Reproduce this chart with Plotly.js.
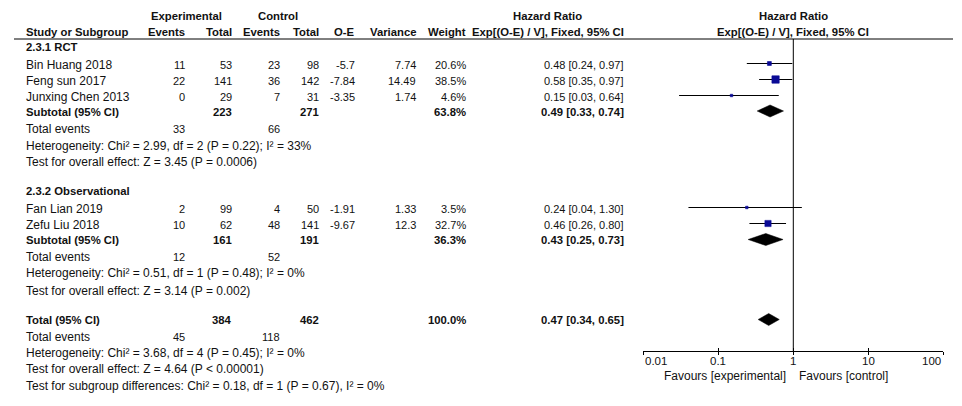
<!DOCTYPE html>
<html><head><meta charset="utf-8">
<script src="https://cdn.plot.ly/plotly-3.0.1.min.js"></script>
<style>html,body{margin:0;padding:0;background:#fff}#c{width:962px;height:406px}</style>
</head><body><div id="c"></div>
<script>
// ---------- data ----------
const subgroups = ["2.3.1 RCT", "2.3.2 Observational"];
const studies = ["Bin Huang 2018", "Feng sun 2017", "Junxing Chen 2013", "Fan Lian 2019", "Zefu Liu 2018"];
const studyGroup = [0, 0, 0, 1, 1];
const expEvents = [11, 22, 0, 2, 10];
const expTotal = [53, 141, 29, 99, 62];
const ctlEvents = [23, 36, 7, 4, 48];
const ctlTotal = [98, 142, 31, 50, 141];
const oMinusE = [-5.7, -7.84, -3.35, -1.91, -9.67];
const variance = [7.74, 14.49, 1.74, 1.33, 12.3];
const weight = [20.6, 38.5, 4.6, 3.5, 32.7];
const hr = [0.48, 0.58, 0.15, 0.24, 0.46];
const hrLo = [0.24, 0.35, 0.03, 0.04, 0.26];
const hrHi = [0.97, 0.97, 0.64, 1.30, 0.80];

const subExpTotal = [223, 161];
const subCtlTotal = [271, 191];
const subWeight = [63.8, 36.3];
const subHR = [0.49, 0.43];
const subLo = [0.33, 0.25];
const subHi = [0.74, 0.73];
const subExpEvents = [33, 12];
const subCtlEvents = [66, 52];
const subHet = ["Heterogeneity: Chi² = 2.99, df = 2 (P = 0.22); I² = 33%",
                "Heterogeneity: Chi² = 0.51, df = 1 (P = 0.48); I² = 0%"];
const subZ = ["Test for overall effect: Z = 3.45 (P = 0.0006)",
              "Test for overall effect: Z = 3.14 (P = 0.002)"];

const totExpTotal = 384, totCtlTotal = 462, totWeight = 100.0;
const totHR = 0.47, totLo = 0.34, totHi = 0.65;
const totExpEvents = 45, totCtlEvents = 118;
const totHet = "Heterogeneity: Chi² = 3.68, df = 4 (P = 0.45); I² = 0%";
const totZ = "Test for overall effect: Z = 4.64 (P < 0.00001)";
const subDiff = "Test for subgroup differences: Chi² = 0.18, df = 1 (P = 0.67), I² = 0%";

const tickVals = [0.01, 0.1, 1, 10, 100];
const tickText = ["0.01", "0.1", "1", "10", "100"];
const favLeft = "Favours [experimental]";
const favRight = "Favours [control]";

// ---------- layout constants ----------
const W = 962, H = 406;
const rowY = [47, 64.5, 80.5, 96.5, 111.5, 129, 145.5, 162, 191, 208.5, 224.5, 240, 257, 273, 290.5, 320, 337, 353, 369, 385.5];
const colStudy = 24, colEvE = 187, colTotE = 233.5, colEvC = 282, colTotC = 320.5,
      colOE = 357, colVar = 418, colW = 468, colHR = 625.5;
const axisY = 351, headLineY = 39;
const FONT = "Arial, 'Liberation Sans', sans-serif";
const TXT = "#111";
const SQ = "#0a0a96";
const SZ_LABEL = 12, SZ_NUM = 11, SZ_BOLD = 11.3;

const ann = [];
function t(x, y, text, anchor, kind) {
  const bold = kind === 'b';
  const size = bold ? SZ_BOLD : (kind === 'l' ? SZ_LABEL : SZ_NUM);
  ann.push({
    xref: 'x', yref: 'y', x: x, y: y, text: bold ? '<b>' + text + '</b>' : text,
    showarrow: false, xanchor: anchor, yanchor: 'middle',
    font: {family: FONT, size: size, color: TXT}
  });
}
const fmt2 = v => v.toFixed(2);
const ci = (e, l, h) => fmt2(e) + ' [' + fmt2(l) + ', ' + fmt2(h) + ']';

// headers
t(186, 16, 'Experimental', 'center', 'b');
t(278, 16, 'Control', 'center', 'b');
t(547, 16, 'Hazard Ratio', 'center', 'b');
t(793, 16, 'Hazard Ratio', 'center', 'b');
t(colStudy, 32, 'Study or Subgroup', 'left', 'b');
t(colEvE, 32, 'Events', 'right', 'b');
t(colTotE, 32, 'Total', 'right', 'b');
t(colEvC, 32, 'Events', 'right', 'b');
t(colTotC, 32, 'Total', 'right', 'b');
t(colOE, 32, 'O-E', 'right', 'b');
t(colVar, 32, 'Variance', 'right', 'b');
t(colW, 32, 'Weight', 'right', 'b');
t(colHR, 32, 'Exp[(O-E) / V], Fixed, 95% CI', 'right', 'b');
t(793, 32, 'Exp[(O-E) / V], Fixed, 95% CI', 'center', 'b');

const traces = [];
const studyYs = [], diamonds = [];
let r = 0;
subgroups.forEach((g, gi) => {
  t(colStudy, rowY[r++], g, 'left', 'b');
  studies.forEach((s, i) => {
    if (studyGroup[i] !== gi) return;
    const y = rowY[r++];
    t(colStudy, y, s, 'left', 'l');
    t(colEvE, y, String(expEvents[i]), 'right');
    t(colTotE, y, String(expTotal[i]), 'right');
    t(colEvC, y, String(ctlEvents[i]), 'right');
    t(colTotC, y, String(ctlTotal[i]), 'right');
    t(colOE, y, String(oMinusE[i]), 'right');
    t(colVar, y, String(variance[i]), 'right');
    t(colW, y, weight[i].toFixed(1) + '%', 'right');
    t(colHR, y, ci(hr[i], hrLo[i], hrHi[i]), 'right');
    studyYs[i] = y;
  });
  let y = rowY[r++];
  t(colStudy, y, 'Subtotal (95% CI)', 'left', 'b');
  t(colTotE, y, String(subExpTotal[gi]), 'right', 'b');
  t(colTotC, y, String(subCtlTotal[gi]), 'right', 'b');
  t(colW, y, subWeight[gi].toFixed(1) + '%', 'right', 'b');
  t(colHR, y, ci(subHR[gi], subLo[gi], subHi[gi]), 'right', 'b');
  diamonds.push({e: subHR[gi], l: subLo[gi], h: subHi[gi], y: y});
  y = rowY[r++];
  t(colStudy, y, 'Total events', 'left', 'l');
  t(colEvE, y, String(subExpEvents[gi]), 'right');
  t(colEvC, y, String(subCtlEvents[gi]), 'right');
  t(colStudy, rowY[r++], subHet[gi], 'left', 'l');
  t(colStudy, rowY[r++], subZ[gi], 'left', 'l');
});
let y = rowY[r++];
t(colStudy, y, 'Total (95% CI)', 'left', 'b');
t(colTotE, y, String(totExpTotal), 'right', 'b');
t(colTotC, y, String(totCtlTotal), 'right', 'b');
t(colW, y, totWeight.toFixed(1) + '%', 'right', 'b');
t(colHR, y, ci(totHR, totLo, totHi), 'right', 'b');
diamonds.push({e: totHR, l: totLo, h: totHi, y: y});
y = rowY[r++];
t(colStudy, y, 'Total events', 'left', 'l');
t(colEvE, y, String(totExpEvents), 'right');
t(colEvC, y, String(totCtlEvents), 'right');
t(colStudy, rowY[r++], totHet, 'left', 'l');
t(colStudy, rowY[r++], totZ, 'left', 'l');
t(colStudy, rowY[r++], subDiff, 'left', 'l');

// axis tick labels (through x2 scale)
tickVals.forEach((v, i) => {
  const anchor = i === 0 ? 'left' : (i === tickVals.length - 1 ? 'right' : 'center');
  ann.push({xref: 'x2', yref: 'y', x: Math.log10(v), y: 361, text: tickText[i], showarrow: false,
    xanchor: anchor, yanchor: 'middle', font: {family: FONT, size: 11.5, color: TXT}});
});
ann.push({xref: 'x2', yref: 'y', x: 0, y: 376, text: favLeft, showarrow: false, xanchor: 'right', xshift: -5,
  yanchor: 'middle', font: {family: FONT, size: 12, color: TXT}});
ann.push({xref: 'x2', yref: 'y', x: 0, y: 376, text: favRight, showarrow: false, xanchor: 'left', xshift: 4,
  yanchor: 'middle', font: {family: FONT, size: 12, color: TXT}});

// null line
traces.push({x: [1, 1], y: [headLineY, axisY], xaxis: 'x2', yaxis: 'y2', mode: 'lines',
  line: {color: '#000', width: 1}, hoverinfo: 'skip', showlegend: false});
// CI lines
studies.forEach((s, i) => {
  traces.push({x: [hrLo[i], hrHi[i]], y: [studyYs[i] - 1, studyYs[i] - 1], xaxis: 'x2', yaxis: 'y2',
    mode: 'lines', line: {color: '#000', width: 1.2}, hoverinfo: 'skip', showlegend: false});
});
// squares
traces.push({x: hr, y: studyYs.map(v => v - 1), xaxis: 'x2', yaxis: 'y2', mode: 'markers', opacity: 1,
  marker: {symbol: 'square', color: SQ, opacity: 1, size: weight.map(w => Math.max(2.5, w * 0.19)),
    line: {width: 0.6, color: SQ}},
  hoverinfo: 'skip', showlegend: false});
// diamonds
diamonds.forEach(d => {
  const hh = 6;
  traces.push({x: [d.l, d.e, d.h, d.e, d.l], y: [d.y - 0.5, d.y - 0.5 - hh, d.y - 0.5, d.y - 0.5 + hh, d.y - 0.5],
    xaxis: 'x2', yaxis: 'y2', mode: 'lines', fill: 'toself', fillcolor: '#000',
    line: {color: '#000', width: 0.5}, hoverinfo: 'skip', showlegend: false});
});
// invisible trace to register the overlay tick axis
traces.push({x: tickVals, y: tickVals.map(() => axisY), xaxis: 'x3', yaxis: 'y2', mode: 'markers',
  marker: {opacity: 0}, hoverinfo: 'skip', showlegend: false});
// invisible trace on table axes
traces.push({x: [0, W], y: [0, H], xaxis: 'x', yaxis: 'y', mode: 'markers', marker: {opacity: 0},
  hoverinfo: 'skip', showlegend: false});

const dom = [643.3 / W, 943.3 / W];
const layout = {
  width: W, height: H, margin: {l: 0, r: 0, t: 0, b: 0}, paper_bgcolor: '#fff', plot_bgcolor: 'rgba(0,0,0,0)',
  showlegend: false,
  xaxis: {range: [0, W], domain: [0, 1], visible: false, fixedrange: true},
  yaxis: {range: [H, 0], domain: [0, 1], visible: false, fixedrange: true},
  xaxis2: {type: 'log', range: [-2, 2], domain: dom, anchor: 'y2', showline: true, linecolor: '#000', linewidth: 1,
    ticks: 'outside', ticklen: 3, tickwidth: 1, tickcolor: '#000', tickvals: tickVals, showticklabels: false,
    showgrid: false, zeroline: false},
  xaxis3: {type: 'log', range: [-2, 2], domain: dom, anchor: 'y2', overlaying: 'x2', showline: false,
    ticks: 'inside', ticklen: 3, tickwidth: 1, tickcolor: '#000', tickvals: tickVals, showticklabels: false,
    showgrid: false, zeroline: false},
  yaxis2: {range: [axisY, 0], domain: [(H - axisY) / H, 1], visible: false, fixedrange: true},
  shapes: [{type: 'line', xref: 'x', yref: 'y', x0: 14, x1: 953, y0: headLineY, y1: headLineY,
    line: {color: '#000', width: 1}}],
  annotations: ann
};
Plotly.newPlot('c', traces, layout, {staticPlot: true, displayModeBar: false});
</script></body></html>
